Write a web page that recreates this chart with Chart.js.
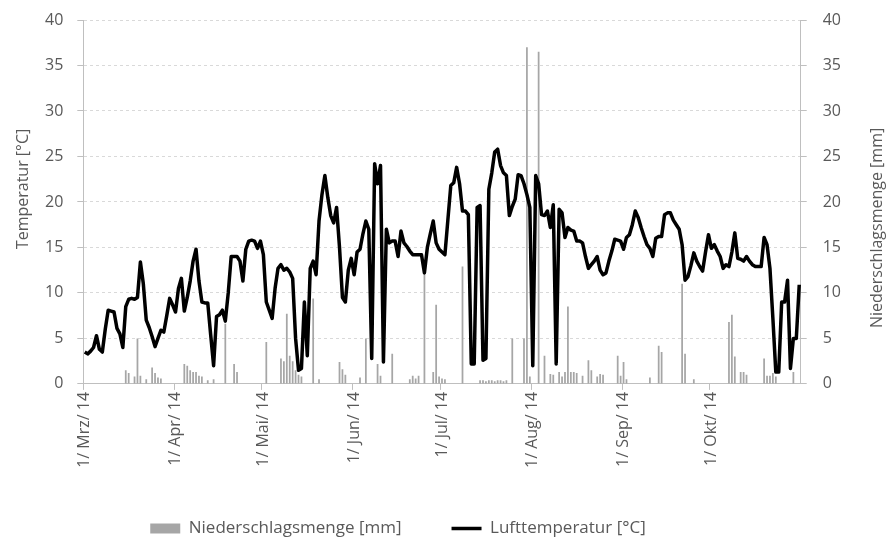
<!DOCTYPE html>
<html>
<head>
<meta charset="utf-8">
<script src="https://cdn.jsdelivr.net/npm/chart.js@4"></script>
<style>
html,body{margin:0;padding:0;background:#fff;}
#wrap{width:886px;height:547px;position:relative;}
</style>
</head>
<body>
<div id="wrap"><canvas id="c"></canvas></div>
<script>
// ---- data ----
const monthNames = ['Mrz','Apr','Mai','Jun','Jul','Aug','Sep','Okt'];
const monthDays  = [31,30,31,30,31,31,30,31];
const yearLabel  = '14';
const leftTitle  = 'Temperatur [°C]';
const rightTitle = 'Niederschlagsmenge [mm]';
const precipLabel = 'Niederschlagsmenge [mm]';
const tempLabel   = 'Lufttemperatur [°C]';
const yTickMin = 0, yTickMax = 40, yTickStep = 5;

// daily air temperature [°C], 1 Mar - 31 Oct 2014
const temperature = [
  3.5,3.3,3.6,4.0,5.3,3.8,3.5,6.0,8.1,8.0,
  7.9,6.1,5.5,4.0,8.5,9.3,9.4,9.3,9.5,13.4,
  11.0,7.0,6.2,5.2,4.1,5.0,5.9,5.7,7.5,9.4,
  8.7,7.9,10.5,11.6,8.0,9.5,11.3,13.5,14.8,11.3,
  9.0,8.9,8.9,5.4,2.0,7.4,7.6,8.1,6.9,10.0,
  14.0,14.0,14.0,13.5,11.3,14.8,15.7,15.8,15.7,14.9,
  15.7,14.2,9.0,8.1,7.2,10.5,12.7,13.1,12.5,12.7,
  12.3,11.6,5.0,1.5,1.7,9.0,3.1,12.7,13.5,12.0,
  17.9,20.8,22.9,20.5,18.5,17.7,19.4,15.0,9.5,9.0,
  12.5,13.8,12.0,14.5,14.8,16.5,17.9,17.0,2.8,24.2,
  22.0,24.0,2.4,17.0,15.5,15.7,15.7,14.0,16.8,15.5,
  15.1,14.6,14.2,14.2,14.2,14.2,12.2,15.0,16.5,17.9,
  15.5,14.8,14.5,14.2,18.0,21.8,22.1,23.8,22.0,19.0,
  19.0,18.6,2.2,2.2,19.4,19.6,2.6,2.8,21.4,23.2,
  25.5,25.8,24.0,23.2,22.9,18.5,19.5,20.3,23.0,22.9,
  22.0,20.8,19.4,2.0,22.9,22.0,18.6,18.5,19.0,17.2,
  19.7,2.2,19.2,18.8,16.1,17.2,16.9,16.8,15.7,15.7,
  15.5,14.0,12.7,13.1,13.5,14.0,12.5,12.0,12.2,13.5,
  14.6,15.9,15.8,15.7,14.8,16.1,16.4,17.5,19.0,18.3,
  17.2,16.2,15.3,14.9,14.0,16.0,16.2,16.2,18.6,18.8,
  18.8,18.0,17.5,17.0,15.3,11.4,11.8,13.0,14.4,13.5,
  12.9,12.4,14.5,16.4,14.9,15.3,14.6,14.0,12.7,13.1,
  12.9,14.5,16.6,13.8,13.7,13.5,14.0,13.5,13.1,12.9,
  12.9,12.9,16.1,15.3,12.7,7.2,1.3,1.3,9.0,9.0,
  11.4,1.7,5.0,5.0,10.9
];

// daily precipitation [mm]
const precipitation = [
  0,0,0,0,0,0,0,0,0,0,
  0,0,0,0,1.5,1.2,0,0.8,5.0,0.9,
  0,0.5,0,1.8,1.2,0.7,0.6,0,0,0,
  0,0,0,0,2.2,2.0,1.5,1.3,1.3,0.9,
  0.8,0,0.4,0,0.5,0,0,0,6.6,0,
  0,2.2,1.3,0,0,0,0,0,0,0,
  0,0,4.6,0,0,0,0,2.8,2.5,7.7,
  3.1,2.5,1.5,1.0,0.8,0,0,0,9.4,0,
  0.5,0,0,0,0,0,0,2.4,1.6,1.0,
  0,0,0,0,0.7,0,5.0,0,0,0,
  2.2,0.9,0,0,0,3.3,0,0,0,0,
  0,0.5,0.9,0.6,0.9,0,12.0,0,0,1.3,
  8.7,0.8,0.6,0.5,0,0,0,0,0,12.9,
  0,0,0,0,0,0.4,0.4,0.3,0.4,0.4,
  0.3,0.4,0.4,0.3,0.4,0,5.0,0,0,0,
  5.0,37.0,0.8,0,0,36.5,0,3.1,0,1.1,
  1.0,0,1.3,0.8,1.3,8.5,1.3,1.3,1.2,0,
  0.9,0,2.6,1.5,0,0.8,1.1,1.0,0,0,
  0,0,3.1,0.9,2.4,0.5,0,0,0,0,
  0,0,0,0.7,0,0,4.2,3.5,0,0,
  0,0,0,0,11.0,3.3,0,0,0.5,0,
  0,0,0,0,0,0,0,0,0,0,
  6.8,7.6,3.0,0,1.3,1.3,1.0,0,0,0,
  0,0,2.8,0.9,0.9,1.2,0.8,0,0,0,
  0,0,1.3,0,0
];

// ---- categories (one per day) ----
const dayLabels = [];
const monthStart = [];
monthNames.forEach((m, mi) => {
  for (let d = 1; d <= monthDays[mi]; d++) {
    dayLabels.push(d + '/ ' + m + '/ ' + yearLabel);
    monthStart.push(d === 1);
  }
});

const textColor = '#595959';
const fontFamily = '"Open Sans", "Liberation Sans", sans-serif';
const tickFont = {family: fontFamily, size: 16};
const yTickFont = {family: fontFamily, size: 16, lineHeight: 0.5};

const axisTitlePlugin = {
  id: 'axisTitles',
  afterDraw(chart) {
    const {ctx, chartArea} = chart;
    const cy = (chartArea.top + chartArea.bottom) / 2;
    ctx.save();
    ctx.fillStyle = textColor;
    ctx.font = '16px ' + fontFamily;
    ctx.textAlign = 'center';
    ctx.textBaseline = 'middle';
    ctx.save();
    ctx.translate(chartArea.left - 60, cy - 13);
    ctx.rotate(-Math.PI / 2);
    ctx.fillText(leftTitle, 0, 0);
    ctx.restore();
    ctx.save();
    ctx.translate(chartArea.right + 77, cy + 26);
    ctx.rotate(-Math.PI / 2);
    ctx.fillText(rightTitle, 0, 0);
    ctx.restore();
    ctx.restore();
  }
};

// legend sits slightly left of centre in the original
const legendShiftPlugin = {
  id: 'legendShift',
  afterLayout(chart) {
    const lg = chart.legend;
    if (lg) { lg.left -= 46; lg.right -= 46; }
  }
};

new Chart(document.getElementById('c'), {
  data: {
    labels: dayLabels,
    datasets: [
      {
        type: 'bar',
        label: precipLabel,
        data: precipitation,
        yAxisID: 'y1',
        backgroundColor: '#a6a6a6',
        borderWidth: 0,
        barPercentage: 0.6,
        categoryPercentage: 1.0,
        order: 1,
        pointStyle: 'rect'
      },
      {
        type: 'line',
        label: tempLabel,
        data: temperature,
        yAxisID: 'y',
        borderColor: '#000000',
        backgroundColor: '#000000',
        borderWidth: 3.5,
        pointRadius: 0,
        tension: 0,
        borderJoinStyle: 'round',
        order: 0,
        pointStyle: 'line'
      }
    ]
  },
  options: {
    responsive: true,
    maintainAspectRatio: false,
    animation: false,
    layout: {padding: {left: 31, right: 29, top: 1, bottom: 0}},
    plugins: {
      tooltip: {enabled: false},
      legend: {
        position: 'bottom',
        labels: {
          usePointStyle: true,
          pointStyleWidth: 30,
          boxHeight: 10,
          padding: 50,
          color: textColor,
          font: {family: fontFamily, size: 17},
          sort: (a, b) => a.datasetIndex - b.datasetIndex
        }
      }
    },
    scales: {
      x: {
        type: 'category',
        offset: true,
        grid: {
          display: true,
          offset: true,
          drawOnChartArea: false,
          drawTicks: true,
          tickLength: 6,
          tickColor: (c) => (monthStart[c.index] || c.index === dayLabels.length) ? '#bfbfbf' : 'rgba(0,0,0,0)'
        },
        border: {display: true, color: '#bfbfbf', width: 1},
        ticks: {
          autoSkip: false,
          maxRotation: 90,
          minRotation: 90,
          padding: 2,
          color: textColor,
          font: tickFont,
          callback: (v, i) => monthStart[i] ? dayLabels[i] : ''
        }
      },
      y: {
        position: 'left',
        min: yTickMin,
        max: yTickMax,
        ticks: {stepSize: yTickStep, color: textColor, font: yTickFont, padding: 14},
        grid: {color: '#d9d9d9', lineWidth: 1, drawTicks: true, tickLength: 6, tickColor: '#bfbfbf'},
        border: {display: true, color: '#bfbfbf', dash: [3, 3]},
        title: {display: false}
      },
      y1: {
        position: 'right',
        min: yTickMin,
        max: yTickMax,
        ticks: {stepSize: yTickStep, color: textColor, font: yTickFont, padding: 16},
        grid: {drawOnChartArea: false, drawTicks: true, tickLength: 6, tickColor: '#bfbfbf'},
        border: {display: true, color: '#bfbfbf'},
        title: {display: false}
      }
    }
  },
  plugins: [axisTitlePlugin, legendShiftPlugin]
});
</script>
</body>
</html>
